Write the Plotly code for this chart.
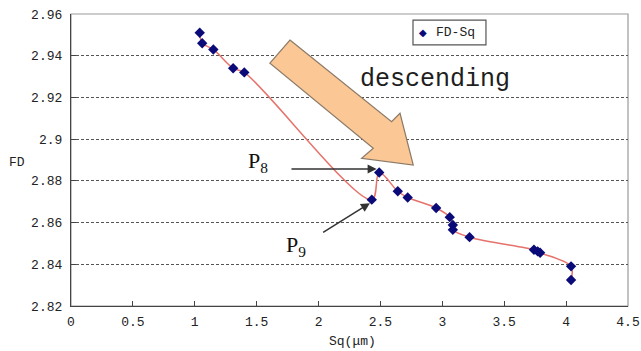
import plotly.graph_objects as go

# Data (Sq in µm, FD)
sq = [1.04, 1.06, 1.15, 1.31, 1.40, 2.43, 2.49, 2.64, 2.72, 2.95, 3.06, 3.085, 3.085,
      3.22, 3.74, 3.77, 3.79, 4.04, 4.04]
fd = [2.951, 2.946, 2.943, 2.934, 2.932, 2.871, 2.884, 2.875, 2.872, 2.867, 2.8626,
      2.8588, 2.8565, 2.853, 2.847, 2.8462, 2.8455, 2.839, 2.8325]

x_ticks = [0, 0.5, 1, 1.5, 2, 2.5, 3, 3.5, 4, 4.5]
x_tick_text = ["0", "0.5", "1", "1.5", "2", "2.5", "3", "3.5", "4", "4.5"]
y_ticks = [2.82, 2.84, 2.86, 2.88, 2.9, 2.92, 2.94, 2.96]
y_tick_text = ["2.82", "2.84", "2.86", "2.88", "2.9", "2.92", "2.94", "2.96"]

MONO = "Liberation Mono"
SERIF = "Liberation Serif"
LINE_C = "#E5736C"
MARK_C = "#0A0A78"

fig = go.Figure()
fig.add_trace(go.Scatter(
    x=sq, y=fd, mode="lines", name="FD-Sq line", showlegend=False,
    line=dict(color=LINE_C, width=1.5, shape="spline", smoothing=1),
))
fig.add_trace(go.Scatter(
    x=sq, y=fd, mode="markers", name="FD-Sq", showlegend=False,
    marker=dict(symbol="diamond", size=8, color=MARK_C),
))

# big descending arrow (in data units)
arrow_pts = [(1.769, 2.9475), (2.590, 2.9084), (2.658, 2.9124), (2.765, 2.8876),
             (2.348, 2.8908), (2.442, 2.8956), (1.607, 2.9364)]
path = "M " + " L ".join(f"{x},{y}" for x, y in arrow_pts) + " Z"
fig.add_shape(type="path", path=path, xref="x", yref="y",
              fillcolor="#FAC795", line=dict(color="#8C7A68", width=1.2), layer="above")

# plot frame top/right
fig.add_shape(type="rect", xref="paper", yref="paper", x0=0, y0=0, x1=1, y1=1,
              line=dict(color="#9A9A9A", width=1.2), layer="below")

# manual legend box
fig.add_shape(type="rect", xref="paper", yref="paper", x0=0.614, x1=0.745,
              y0=0.894, y1=0.979, line=dict(color="#555", width=1.2),
              fillcolor="white", layer="above")

C = dict(xanchor="center", yanchor="middle")
annos = [
    dict(x=0.632, y=0.9365, xref="paper", yref="paper", text="◆", showarrow=False,
         font=dict(family="DejaVu Sans", size=10, color=MARK_C), **C),
    dict(x=0.652, y=0.9365, xref="paper", yref="paper", xanchor="left", yanchor="middle",
         text="FD-Sq", showarrow=False,
         font=dict(family=MONO, size=13, color="#222")),
    dict(x=2.94, y=2.9284, text="descending", showarrow=False,
         font=dict(family=MONO, size=25, color="#1E1E1E"), **C),
    dict(x=1.51, y=2.889, text="P<sub>8</sub>", showarrow=False,
         font=dict(family=SERIF, size=22, color="#111"), **C),
    dict(x=1.817, y=2.8488, text="P<sub>9</sub>", showarrow=False,
         font=dict(family=SERIF, size=22, color="#111"), **C),
    dict(x=2.469, y=2.8857, ax=1.769, ay=2.8857, axref="x", ayref="y", text="",
         showarrow=True, arrowhead=2, arrowsize=1.2, arrowwidth=1.5, arrowcolor="#333",
         standoff=0),
    dict(x=2.415, y=2.8693, ax=2.025, ay=2.8549, axref="x", ayref="y", text="",
         showarrow=True, arrowhead=2, arrowsize=1.2, arrowwidth=1.5, arrowcolor="#333",
         standoff=0),
    dict(x=-0.0975, y=0.49, xref="paper", yref="paper", text="FD", showarrow=False,
         font=dict(family=MONO, size=13, color="#222"), **C),
    dict(x=0.5045, y=-0.123, xref="paper", yref="paper", text="Sq(μm)", showarrow=False,
         font=dict(family=MONO, size=13, color="#222"), **C),
]
for a in annos:
    fig.add_annotation(**a)

fig.update_layout(
    width=641, height=351,
    margin=dict(l=71, r=13, t=14, b=45, autoexpand=False),
    paper_bgcolor="white", plot_bgcolor="white",
    font=dict(family=MONO, size=13, color="#222"),
    showlegend=False,
    xaxis=dict(range=[0, 4.5], tickvals=x_ticks, ticktext=x_tick_text,
               showgrid=False, zeroline=False, showline=True, linecolor="#444",
               linewidth=1.2, ticks="inside", ticklen=5, tickcolor="#444",
               ticklabelstandoff=3),
    yaxis=dict(range=[2.82, 2.96], tickvals=y_ticks, ticktext=y_tick_text,
               showgrid=True, gridcolor="#555", griddash="3px,2px", gridwidth=1,
               zeroline=False, showline=True, linecolor="#444", linewidth=1.2,
               ticks="inside", ticklen=5, tickcolor="#444", ticklabelstandoff=5),
)

fig.write_html("out.html")
